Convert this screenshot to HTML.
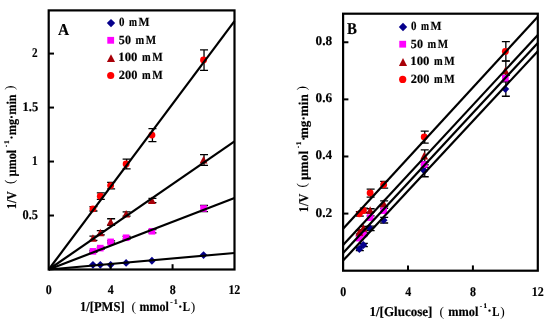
<!DOCTYPE html>
<html><head><meta charset="utf-8"><style>
html,body{margin:0;padding:0;background:#fff;}
svg{display:block;will-change:transform;}
text{font-family:"Liberation Serif", serif;font-weight:bold;fill:#000;text-rendering:geometricPrecision;stroke:#000;stroke-width:0.18px;}
</style></head><body>
<svg width="550" height="320" viewBox="0 0 550 320">
<rect width="550" height="320" fill="#fff"/>
<path d="M93.44 250.50V252.23M89.44 250.50H97.44M89.44 252.23H97.44" stroke="#000" stroke-width="1.3" fill="none"/>
<path d="M100.81 247.26V248.99M96.81 247.26H104.81M96.81 248.99H104.81" stroke="#000" stroke-width="1.3" fill="none"/>
<path d="M111.13 240.78V242.94M107.13 240.78H115.13M107.13 242.94H115.13" stroke="#000" stroke-width="1.3" fill="none"/>
<path d="M126.62 236.46V239.06M122.62 236.46H130.62M122.62 239.06H130.62" stroke="#000" stroke-width="1.3" fill="none"/>
<path d="M152.43 229.66V232.90M148.43 229.66H156.43M148.43 232.90H156.43" stroke="#000" stroke-width="1.3" fill="none"/>
<path d="M204.03 205.48V211.53M200.03 205.48H208.03M200.03 211.53H208.03" stroke="#000" stroke-width="1.3" fill="none"/>
<path d="M93.44 236.14V240.46M89.44 236.14H97.44M89.44 240.46H97.44" stroke="#000" stroke-width="1.3" fill="none"/>
<path d="M100.81 230.63V234.95M96.81 230.63H104.81M96.81 234.95H104.81" stroke="#000" stroke-width="1.3" fill="none"/>
<path d="M111.13 218.76V225.24M107.13 218.76H115.13M107.13 225.24H115.13" stroke="#000" stroke-width="1.3" fill="none"/>
<path d="M126.62 211.85V216.17M122.62 211.85H130.62M122.62 216.17H130.62" stroke="#000" stroke-width="1.3" fill="none"/>
<path d="M152.43 198.36V202.67M148.43 198.36H156.43M148.43 202.67H156.43" stroke="#000" stroke-width="1.3" fill="none"/>
<path d="M204.03 154.63V165.43M200.03 154.63H208.03M200.03 165.43H208.03" stroke="#000" stroke-width="1.3" fill="none"/>
<path d="M93.44 206.67V210.99M89.44 206.67H97.44M89.44 210.99H97.44" stroke="#000" stroke-width="1.3" fill="none"/>
<path d="M100.81 192.96V199.44M96.81 192.96H104.81M96.81 199.44H104.81" stroke="#000" stroke-width="1.3" fill="none"/>
<path d="M111.13 182.38V188.86M107.13 182.38H115.13M107.13 188.86H115.13" stroke="#000" stroke-width="1.3" fill="none"/>
<path d="M126.62 159.17V168.88M122.62 159.17H130.62M122.62 168.88H130.62" stroke="#000" stroke-width="1.3" fill="none"/>
<path d="M152.43 128.61V141.57M148.43 128.61H156.43M148.43 141.57H156.43" stroke="#000" stroke-width="1.3" fill="none"/>
<path d="M204.03 49.80V70.32M200.03 49.80H208.03M200.03 70.32H208.03" stroke="#000" stroke-width="1.3" fill="none"/>
<path d="M92.94 260.90L96.84 264.80L92.94 268.70L89.04 264.80Z" fill="#06008C"/>
<path d="M100.31 260.90L104.21 264.80L100.31 268.70L96.41 264.80Z" fill="#06008C"/>
<path d="M110.63 260.90L114.53 264.80L110.63 268.70L106.73 264.80Z" fill="#06008C"/>
<path d="M126.12 259.01L130.02 262.91L126.12 266.81L122.22 262.91Z" fill="#06008C"/>
<path d="M151.93 256.86L155.83 260.76L151.93 264.66L148.03 260.76Z" fill="#06008C"/>
<path d="M203.53 251.13L207.43 255.03L203.53 258.93L199.63 255.03Z" fill="#06008C"/>
<rect x="89.64" y="248.06" width="6.60" height="6.60" fill="#FF00FF"/>
<rect x="97.01" y="244.82" width="6.60" height="6.60" fill="#FF00FF"/>
<rect x="107.33" y="238.56" width="6.60" height="6.60" fill="#FF00FF"/>
<rect x="122.82" y="234.46" width="6.60" height="6.60" fill="#FF00FF"/>
<rect x="148.63" y="227.98" width="6.60" height="6.60" fill="#FF00FF"/>
<rect x="200.23" y="205.20" width="6.60" height="6.60" fill="#FF00FF"/>
<path d="M92.94 234.21L96.84 241.81L89.04 241.81Z" fill="#A80008"/>
<path d="M100.31 228.70L104.21 236.30L96.41 236.30Z" fill="#A80008"/>
<path d="M110.63 217.90L114.53 225.51L106.73 225.51Z" fill="#A80008"/>
<path d="M126.12 209.91L130.02 217.52L122.22 217.52Z" fill="#A80008"/>
<path d="M151.93 196.42L155.83 204.02L148.03 204.02Z" fill="#A80008"/>
<path d="M203.53 155.94L207.43 163.54L199.63 163.54Z" fill="#A80008"/>
<circle cx="92.94" cy="208.83" r="3.45" fill="#FF0000"/>
<circle cx="100.31" cy="196.20" r="3.45" fill="#FF0000"/>
<circle cx="110.63" cy="185.62" r="3.45" fill="#FF0000"/>
<circle cx="126.12" cy="164.02" r="3.45" fill="#FF0000"/>
<circle cx="151.93" cy="135.09" r="3.45" fill="#FF0000"/>
<circle cx="203.53" cy="60.06" r="3.45" fill="#FF0000"/>
<line x1="48.70" y1="269.50" x2="234.50" y2="252.98" stroke="#000" stroke-width="2.2"/>
<line x1="48.70" y1="269.50" x2="234.50" y2="198.03" stroke="#000" stroke-width="2.2"/>
<line x1="48.70" y1="269.50" x2="234.50" y2="141.35" stroke="#000" stroke-width="2.2"/>
<line x1="48.70" y1="269.50" x2="234.50" y2="21.20" stroke="#000" stroke-width="2.2"/>
<rect x="48.70" y="10.40" width="185.80" height="259.10" fill="none" stroke="#000" stroke-width="2.2"/>
<line x1="48.70" y1="215.52" x2="54.00" y2="215.52" stroke="#000" stroke-width="2"/>
<text transform="translate(22.50,218.62) scale(0.932,1)" font-size="13.3">0.5</text>
<line x1="48.70" y1="161.54" x2="54.00" y2="161.54" stroke="#000" stroke-width="2"/>
<text transform="translate(32.00,164.64) scale(0.850,1)" font-size="13.3">1</text>
<line x1="48.70" y1="107.56" x2="54.00" y2="107.56" stroke="#000" stroke-width="2"/>
<text transform="translate(22.60,110.66) scale(0.938,1)" font-size="13.3">1.5</text>
<line x1="48.70" y1="53.58" x2="54.00" y2="53.58" stroke="#000" stroke-width="2"/>
<text transform="translate(32.05,56.68) scale(0.841,1)" font-size="13.3">2</text>
<line x1="110.63" y1="269.50" x2="110.63" y2="264.20" stroke="#000" stroke-width="2"/>
<line x1="172.57" y1="269.50" x2="172.57" y2="264.20" stroke="#000" stroke-width="2"/>
<text transform="translate(45.81,294.00) scale(0.900,1)" font-size="13.3">0</text>
<text transform="translate(107.80,294.00) scale(0.900,1)" font-size="13.3">4</text>
<text transform="translate(169.67,294.00) scale(0.900,1)" font-size="13.3">8</text>
<text transform="translate(228.38,294.00) scale(0.900,1)" font-size="13.3">12</text>
<path d="M359.83 247.28V250.71M355.83 247.28H363.83M355.83 250.71H363.83" stroke="#000" stroke-width="1.3" fill="none"/>
<path d="M363.88 243.29V246.71M359.88 243.29H367.88M359.88 246.71H367.88" stroke="#000" stroke-width="1.3" fill="none"/>
<path d="M370.65 226.15V230.72M366.65 226.15H374.65M366.65 230.72H374.65" stroke="#000" stroke-width="1.3" fill="none"/>
<path d="M384.16 217.30V223.01M380.16 217.30H388.16M380.16 223.01H388.16" stroke="#000" stroke-width="1.3" fill="none"/>
<path d="M424.73 164.76V176.75M420.73 164.76H428.73M420.73 176.75H428.73" stroke="#000" stroke-width="1.3" fill="none"/>
<path d="M505.85 81.95V96.23M501.85 81.95H509.85M501.85 96.23H509.85" stroke="#000" stroke-width="1.3" fill="none"/>
<path d="M359.83 236.72V239.57M355.83 236.72H363.83M355.83 239.57H363.83" stroke="#000" stroke-width="1.3" fill="none"/>
<path d="M363.88 232.72V235.58M359.88 232.72H367.88M359.88 235.58H367.88" stroke="#000" stroke-width="1.3" fill="none"/>
<path d="M370.65 215.87V219.30M366.65 215.87H374.65M366.65 219.30H374.65" stroke="#000" stroke-width="1.3" fill="none"/>
<path d="M384.16 208.45V213.02M380.16 208.45H388.16M380.16 213.02H388.16" stroke="#000" stroke-width="1.3" fill="none"/>
<path d="M424.73 161.62V167.33M420.73 161.62H428.73M420.73 167.33H428.73" stroke="#000" stroke-width="1.3" fill="none"/>
<path d="M505.85 75.38V81.09M501.85 75.38H509.85M501.85 81.09H509.85" stroke="#000" stroke-width="1.3" fill="none"/>
<path d="M359.83 230.44V233.86M355.83 230.44H363.83M355.83 233.86H363.83" stroke="#000" stroke-width="1.3" fill="none"/>
<path d="M363.88 226.44V229.87M359.88 226.44H367.88M359.88 229.87H367.88" stroke="#000" stroke-width="1.3" fill="none"/>
<path d="M370.65 208.73V212.16M366.65 208.73H374.65M366.65 212.16H374.65" stroke="#000" stroke-width="1.3" fill="none"/>
<path d="M384.16 200.85V206.56M380.16 200.85H388.16M380.16 206.56H388.16" stroke="#000" stroke-width="1.3" fill="none"/>
<path d="M424.73 149.91V161.90M420.73 149.91H428.73M420.73 161.90H428.73" stroke="#000" stroke-width="1.3" fill="none"/>
<path d="M505.85 60.82V80.81M501.85 60.82H509.85M501.85 80.81H509.85" stroke="#000" stroke-width="1.3" fill="none"/>
<path d="M359.83 211.59V216.16M355.83 211.59H363.83M355.83 216.16H363.83" stroke="#000" stroke-width="1.3" fill="none"/>
<path d="M363.88 208.16V212.73M359.88 208.16H367.88M359.88 212.73H367.88" stroke="#000" stroke-width="1.3" fill="none"/>
<path d="M370.65 189.03V197.03M366.65 189.03H374.65M366.65 197.03H374.65" stroke="#000" stroke-width="1.3" fill="none"/>
<path d="M384.16 181.32V188.17M380.16 181.32H388.16M380.16 188.17H388.16" stroke="#000" stroke-width="1.3" fill="none"/>
<path d="M424.73 131.06V143.06M420.73 131.06H428.73M420.73 143.06H428.73" stroke="#000" stroke-width="1.3" fill="none"/>
<path d="M505.85 41.68V61.10M501.85 41.68H509.85M501.85 61.10H509.85" stroke="#000" stroke-width="1.3" fill="none"/>
<path d="M359.33 245.10L363.23 249.00L359.33 252.90L355.43 249.00Z" fill="#06008C"/>
<path d="M363.38 241.10L367.28 245.00L363.38 248.90L359.48 245.00Z" fill="#06008C"/>
<path d="M370.15 224.54L374.05 228.44L370.15 232.34L366.25 228.44Z" fill="#06008C"/>
<path d="M383.66 216.26L387.56 220.16L383.66 224.06L379.76 220.16Z" fill="#06008C"/>
<path d="M424.23 166.86L428.12 170.76L424.23 174.66L420.33 170.76Z" fill="#06008C"/>
<path d="M505.35 85.19L509.25 89.09L505.35 92.99L501.45 89.09Z" fill="#06008C"/>
<rect x="356.03" y="234.85" width="6.60" height="6.60" fill="#FF00FF"/>
<rect x="360.08" y="230.85" width="6.60" height="6.60" fill="#FF00FF"/>
<rect x="366.85" y="214.29" width="6.60" height="6.60" fill="#FF00FF"/>
<rect x="380.36" y="207.43" width="6.60" height="6.60" fill="#FF00FF"/>
<rect x="420.93" y="161.17" width="6.60" height="6.60" fill="#FF00FF"/>
<rect x="502.05" y="74.94" width="6.60" height="6.60" fill="#FF00FF"/>
<path d="M359.33 228.05L363.23 235.66L355.43 235.66Z" fill="#A80008"/>
<path d="M363.38 224.06L367.28 231.66L359.48 231.66Z" fill="#A80008"/>
<path d="M370.15 206.35L374.05 213.96L366.25 213.96Z" fill="#A80008"/>
<path d="M383.66 199.61L387.56 207.22L379.76 207.22Z" fill="#A80008"/>
<path d="M424.23 151.81L428.12 159.42L420.33 159.42Z" fill="#A80008"/>
<path d="M505.35 66.72L509.25 74.32L501.45 74.32Z" fill="#A80008"/>
<circle cx="359.33" cy="213.87" r="3.45" fill="#FF0000"/>
<circle cx="363.38" cy="210.45" r="3.45" fill="#FF0000"/>
<circle cx="370.15" cy="193.03" r="3.45" fill="#FF0000"/>
<circle cx="383.66" cy="184.75" r="3.45" fill="#FF0000"/>
<circle cx="424.23" cy="137.06" r="3.45" fill="#FF0000"/>
<circle cx="505.35" cy="51.39" r="3.45" fill="#FF0000"/>
<line x1="343.10" y1="228.80" x2="537.80" y2="16.80" stroke="#000" stroke-width="2.2"/>
<line x1="343.10" y1="245.10" x2="537.80" y2="35.00" stroke="#000" stroke-width="2.2"/>
<line x1="343.10" y1="252.90" x2="537.80" y2="42.90" stroke="#000" stroke-width="2.2"/>
<line x1="343.10" y1="260.60" x2="537.80" y2="51.20" stroke="#000" stroke-width="2.2"/>
<rect x="343.10" y="13.70" width="194.70" height="257.00" fill="none" stroke="#000" stroke-width="2.2"/>
<line x1="343.10" y1="213.59" x2="348.40" y2="213.59" stroke="#000" stroke-width="2"/>
<text transform="translate(315.56,216.59) scale(1.009,1)" font-size="13.3">0.2</text>
<line x1="343.10" y1="156.48" x2="348.40" y2="156.48" stroke="#000" stroke-width="2"/>
<text transform="translate(315.57,159.48) scale(0.992,1)" font-size="13.3">0.4</text>
<line x1="343.10" y1="99.37" x2="348.40" y2="99.37" stroke="#000" stroke-width="2"/>
<text transform="translate(315.57,102.37)" font-size="13.3">0.6</text>
<line x1="343.10" y1="42.26" x2="348.40" y2="42.26" stroke="#000" stroke-width="2"/>
<text transform="translate(315.57,45.26)" font-size="13.3">0.8</text>
<line x1="408.00" y1="270.70" x2="408.00" y2="265.40" stroke="#000" stroke-width="2"/>
<line x1="472.90" y1="270.70" x2="472.90" y2="265.40" stroke="#000" stroke-width="2"/>
<text transform="translate(340.21,295.50) scale(0.900,1)" font-size="13.3">0</text>
<text transform="translate(405.17,295.50) scale(0.900,1)" font-size="13.3">4</text>
<text transform="translate(470.01,295.50) scale(0.900,1)" font-size="13.3">8</text>
<text transform="translate(531.68,295.50) scale(0.900,1)" font-size="13.3">12</text>
<path d="M403.00 22.80L407.20 27.00L403.00 31.20L398.80 27.00Z" fill="#06008C"/>
<text transform="translate(410.91,29.90) scale(0.869,1)" font-size="12.6">0</text>
<text transform="translate(421.06,29.90) scale(0.764,1)" font-size="12.6">m</text>
<text transform="translate(430.62,29.90) scale(0.926,1)" font-size="12.6">M</text>
<rect x="399.30" y="40.80" width="6.80" height="6.80" fill="#FF00FF"/>
<text transform="translate(410.87,47.50) scale(0.958,1)" font-size="12.6">50</text>
<text transform="translate(427.54,47.50) scale(0.824,1)" font-size="12.6">m</text>
<text transform="translate(437.73,47.50) scale(0.873,1)" font-size="12.6">M</text>
<path d="M403.00 58.05L407.05 65.94L398.95 65.94Z" fill="#A80008"/>
<text transform="translate(410.33,65.10) scale(1.012,1)" font-size="12.6">100</text>
<text transform="translate(434.04,65.10) scale(0.824,1)" font-size="12.6">m</text>
<text transform="translate(444.13,65.10) scale(0.882,1)" font-size="12.6">M</text>
<circle cx="402.70" cy="79.40" r="3.60" fill="#FF0000"/>
<text transform="translate(410.85,83.10) scale(0.984,1)" font-size="12.6">200</text>
<text transform="translate(434.04,83.10) scale(0.824,1)" font-size="12.6">m</text>
<text transform="translate(444.13,83.10) scale(0.882,1)" font-size="12.6">M</text>
<path d="M111.00 18.90L115.20 23.10L111.00 27.30L106.80 23.10Z" fill="#06008C"/>
<text transform="translate(118.91,26.00) scale(0.869,1)" font-size="12.6">0</text>
<text transform="translate(129.06,26.00) scale(0.764,1)" font-size="12.6">m</text>
<text transform="translate(138.62,26.00) scale(0.926,1)" font-size="12.6">M</text>
<rect x="107.30" y="36.90" width="6.80" height="6.80" fill="#FF00FF"/>
<text transform="translate(118.87,43.60) scale(0.958,1)" font-size="12.6">50</text>
<text transform="translate(135.54,43.60) scale(0.824,1)" font-size="12.6">m</text>
<text transform="translate(145.73,43.60) scale(0.873,1)" font-size="12.6">M</text>
<path d="M111.00 54.15L115.05 62.05L106.95 62.05Z" fill="#A80008"/>
<text transform="translate(118.33,61.20) scale(1.012,1)" font-size="12.6">100</text>
<text transform="translate(142.04,61.20) scale(0.824,1)" font-size="12.6">m</text>
<text transform="translate(152.13,61.20) scale(0.882,1)" font-size="12.6">M</text>
<circle cx="110.70" cy="75.50" r="3.60" fill="#FF0000"/>
<text transform="translate(118.85,79.20) scale(0.984,1)" font-size="12.6">200</text>
<text transform="translate(142.04,79.20) scale(0.824,1)" font-size="12.6">m</text>
<text transform="translate(152.13,79.20) scale(0.882,1)" font-size="12.6">M</text>
<text transform="translate(57.90,34.60) scale(0.929,1)" font-size="16.6">A</text>
<text transform="translate(347.05,34.10) scale(0.894,1)" font-size="16.6">B</text>
<text transform="translate(80.05,311.40) scale(0.928,1)" font-size="13.5">1/[PMS]</text>
<text transform="translate(131.61,311.40)" font-size="13.5" style="font-weight:normal;stroke:none">(</text>
<text transform="translate(139.59,311.40) scale(0.889,1)" font-size="13.5">mmol</text>
<text transform="translate(170.26,304.00)" font-size="7.2">-</text>
<text transform="translate(174.07,304.30)" font-size="7.2">1</text>
<text transform="translate(177.94,311.20)" font-size="13.5">·</text>
<text transform="translate(182.73,311.40) scale(0.802,1)" font-size="13.5">L</text>
<text transform="translate(190.75,311.40)" font-size="13.5" style="font-weight:normal;stroke:none">)</text>
<text transform="translate(369.41,315.50) scale(0.965,1)" font-size="13.5">1/[Glucose]</text>
<text transform="translate(439.41,315.50)" font-size="13.5" style="font-weight:normal;stroke:none">(</text>
<text transform="translate(448.18,315.50) scale(0.914,1)" font-size="13.5">mmol</text>
<text transform="translate(479.66,308.10)" font-size="7.2">-</text>
<text transform="translate(483.47,308.40)" font-size="7.2">1</text>
<text transform="translate(487.34,315.30)" font-size="13.5">·</text>
<text transform="translate(492.13,315.50) scale(0.802,1)" font-size="13.5">L</text>
<text transform="translate(500.15,315.50)" font-size="13.5" style="font-weight:normal;stroke:none">)</text>
<g transform="translate(16.00,208.30) rotate(-90)"><text transform="translate(-0.59,0.00) scale(0.867,1)" font-size="13.5">1/V</text><text transform="translate(24.31,-1.80)" font-size="13.5" style="font-weight:normal;stroke:none">(</text><text transform="translate(31.83,0.00) scale(0.906,1)" font-size="13.5">μmol</text><text transform="translate(60.96,-7.80)" font-size="7.2">-</text><text transform="translate(64.27,-7.30)" font-size="7.2">1</text><text transform="translate(68.43,0.00)" font-size="13.5">·</text><text transform="translate(73.08,0.00) scale(0.907,1)" font-size="13.5">mg·min</text><text transform="translate(118.24,-1.80)" font-size="13.5" style="font-weight:normal;stroke:none">)</text></g>
<g transform="translate(308.20,211.50) rotate(-90)"><text transform="translate(-0.63,0.00) scale(0.909,1)" font-size="13.5">1/V</text><text transform="translate(24.01,-1.80)" font-size="13.5" style="font-weight:normal;stroke:none">(</text><text transform="translate(31.52,0.00) scale(0.989,1)" font-size="13.5">μmol</text><text transform="translate(63.16,-7.80)" font-size="7.2">-</text><text transform="translate(66.22,-7.30)" font-size="7.2">1</text><text transform="translate(70.43,0.00)" font-size="13.5">·</text><text transform="translate(73.35,0.00) scale(0.977,1)" font-size="13.5">mg·min</text><text transform="translate(120.94,-1.80)" font-size="13.5" style="font-weight:normal;stroke:none">)</text></g>
</svg>
</body></html>
